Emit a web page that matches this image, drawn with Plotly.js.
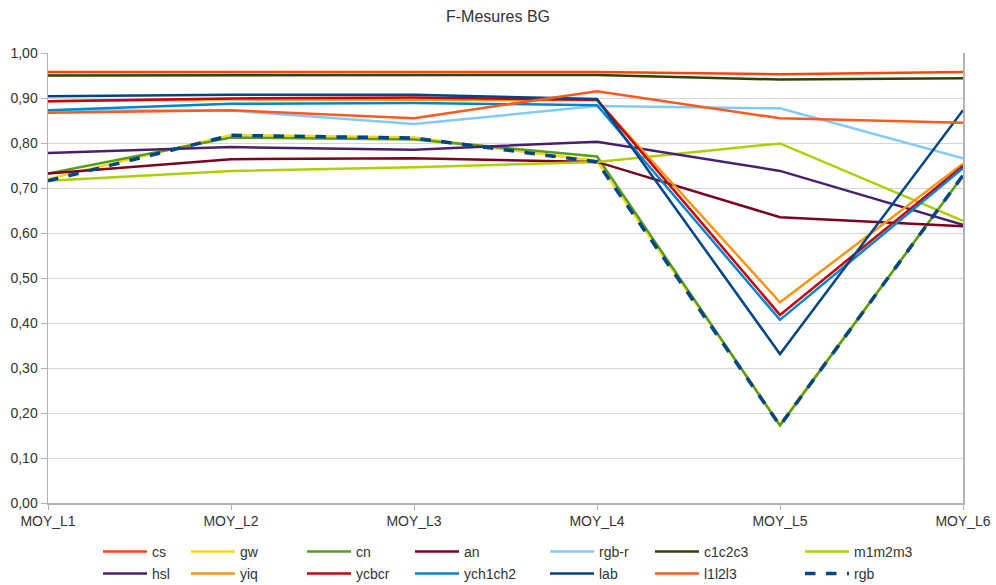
<!DOCTYPE html>
<html>
<head>
<meta charset="utf-8">
<script src="https://cdn.plot.ly/plotly-3.0.1.min.js"></script>
<style>html,body{margin:0;padding:0;background:#fff;}#chart{width:996px;height:585px;}</style>
</head>
<body>
<div id="chart"></div>
<script>
const categories = ["MOY_L1", "MOY_L2", "MOY_L3", "MOY_L4", "MOY_L5", "MOY_L6"];

const cs      = [0.958, 0.958, 0.958, 0.958, 0.953, 0.958];
const gw      = [0.720, 0.818, 0.812, 0.760, 0.175, 0.728];
const cn      = [0.732, 0.812, 0.808, 0.770, 0.172, 0.728];
const an      = [0.732, 0.764, 0.766, 0.758, 0.635, 0.615];
const rgbR    = [0.872, 0.872, 0.842, 0.882, 0.877, 0.766];
const c1c2c3  = [0.950, 0.950, 0.951, 0.951, 0.941, 0.944];
const m1m2m3  = [0.716, 0.738, 0.746, 0.758, 0.799, 0.627];
const hsl     = [0.778, 0.791, 0.785, 0.803, 0.738, 0.618];
const yiq     = [0.893, 0.897, 0.896, 0.895, 0.446, 0.754];
const ycbcr   = [0.893, 0.899, 0.901, 0.896, 0.418, 0.749];
const ych1ch2 = [0.873, 0.887, 0.889, 0.884, 0.407, 0.744];
const lab     = [0.904, 0.907, 0.907, 0.898, 0.331, 0.873];
const l1l2l3  = [0.867, 0.873, 0.855, 0.915, 0.855, 0.845];
const rgb     = [0.716, 0.817, 0.811, 0.758, 0.172, 0.728];

const seriesNames  = ["cs", "gw", "cn", "an", "rgb-r", "c1c2c3", "m1m2m3",
                      "hsl", "yiq", "ycbcr", "ych1ch2", "lab", "l1l2l3", "rgb"];
const seriesValues = [cs, gw, cn, an, rgbR, c1c2c3, m1m2m3,
                      hsl, yiq, ycbcr, ych1ch2, lab, l1l2l3, rgb];
const seriesColors = ["#ff420e", "#ffd320", "#579d1c", "#7e0021", "#83caff", "#314004", "#aecf00",
                      "#4b1f6f", "#ff950e", "#c5000b", "#0084d1", "#004586", "#ff5a1e", "#004586"];
const seriesDash   = ["solid","solid","solid","solid","solid","solid","solid",
                      "solid","solid","solid","solid","solid","solid","dash"];

// legend column x positions (px) and row y positions (px)
const legendColX = [98, 186, 302, 410, 545, 650, 800];
const legendRowY = [552, 574];

const traces = seriesNames.map((name, i) => ({
  type: "scatter",
  mode: "lines",
  name: name,
  x: categories,
  y: seriesValues[i],
  line: {color: seriesColors[i], width: seriesDash[i] === "dash" ? 3.5 : 2.5, dash: seriesDash[i]},
  legend: i === 0 ? "legend" : "legend" + (i + 1),
  hoverinfo: "skip"
}));

const W = 996, H = 585;
const layout = {
  width: W, height: H,
  paper_bgcolor: "#ffffff",
  plot_bgcolor: "#ffffff",
  separators: ", ",
  font: {family: "Liberation Sans, Arial, sans-serif", color: "#333333", size: 13},
  margin: {l: 48, r: 33, t: 53, b: 82, pad: 0},
  title: {
    text: "F-Mesures BG",
    font: {family: "Liberation Sans, Arial, sans-serif", size: 16, color: "#333333"},
    x: 0.5, xref: "container", xanchor: "center",
    y: 1 - 16 / H, yref: "container", yanchor: "middle"
  },
  xaxis: {
    type: "category",
    range: [0, 5],
    showgrid: false,
    showline: true, linecolor: "#b3b3b3", linewidth: 1.5,
    ticks: "outside", ticklen: 5, tickcolor: "#b3b3b3",
    tickfont: {size: 14, color: "#333333"},
    fixedrange: true
  },
  yaxis: {
    range: [0, 1],
    dtick: 0.1,
    tick0: 0,
    tickformat: ".2f",
    showgrid: true, gridcolor: "#d6d6d6", gridwidth: 1,
    zeroline: false,
    showline: true, linecolor: "#b3b3b3", linewidth: 1.5, mirror: true,
    ticks: "outside", ticklen: 6, tickcolor: "#b3b3b3",
    tickfont: {size: 14, color: "#333333"},
    fixedrange: true
  },
  showlegend: true
};

seriesNames.forEach((name, i) => {
  const key = i === 0 ? "legend" : "legend" + (i + 1);
  const col = i % 7, row = Math.floor(i / 7);
  layout[key] = {
    orientation: "h",
    xref: "container", yref: "container",
    x: legendColX[col] / W, xanchor: "left",
    y: 1 - legendRowY[row] / H, yanchor: "middle",
    bgcolor: "rgba(0,0,0,0)",
    borderwidth: 0,
    itemwidth: 44,
    font: {size: 14, color: "#333333"}
  };
});

Plotly.newPlot("chart", traces, layout, {staticPlot: true, displayModeBar: false});
</script>
</body>
</html>
